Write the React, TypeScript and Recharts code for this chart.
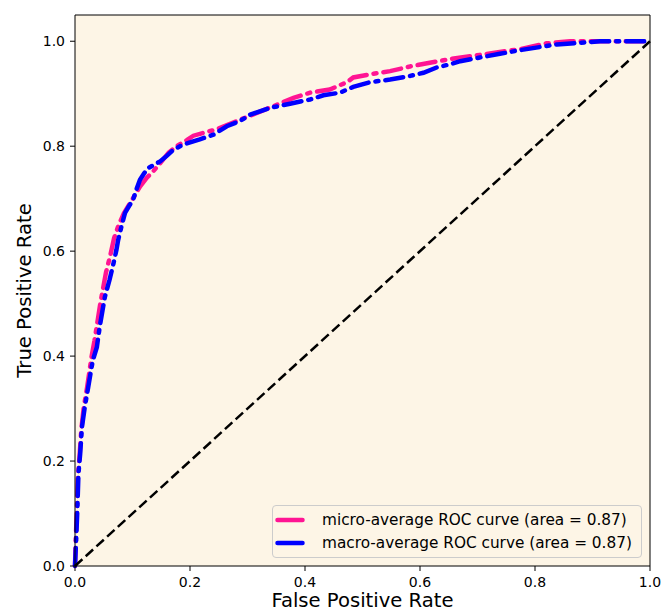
import { LineChart, Line, XAxis, YAxis, CartesianGrid, Label } from 'recharts'

// ROC points, [false positive rate, true positive rate]
const microAverage: [number, number][] = [
  [0, 0], [0.001, 0.04], [0.003, 0.1], [0.005, 0.17], [0.008, 0.21], [0.011, 0.26],
  [0.015, 0.3], [0.021, 0.34], [0.025, 0.37], [0.029, 0.4], [0.034, 0.43], [0.039, 0.465],
  [0.044, 0.5], [0.049, 0.53], [0.054, 0.56], [0.061, 0.59], [0.068, 0.625], [0.076, 0.65],
  [0.085, 0.672], [0.095, 0.69], [0.105, 0.708], [0.113, 0.723], [0.125, 0.74], [0.136, 0.752],
  [0.15, 0.77], [0.163, 0.788], [0.177, 0.8], [0.195, 0.812], [0.206, 0.82], [0.225, 0.826],
  [0.246, 0.832], [0.275, 0.845], [0.304, 0.858], [0.34, 0.874], [0.38, 0.892], [0.409, 0.902],
  [0.443, 0.908], [0.473, 0.922], [0.484, 0.931], [0.513, 0.937], [0.548, 0.943], [0.583, 0.952],
  [0.617, 0.959], [0.652, 0.966], [0.704, 0.974], [0.774, 0.985], [0.82, 0.996], [0.861, 1.0],
  [1.0, 1.0],
]

const macroAverage: [number, number][] = [
  [0, 0], [0.002, 0.05], [0.004, 0.105], [0.006, 0.176], [0.009, 0.214], [0.012, 0.264],
  [0.017, 0.303], [0.023, 0.341], [0.027, 0.367], [0.031, 0.392], [0.038, 0.417], [0.043, 0.456],
  [0.048, 0.488], [0.052, 0.513], [0.06, 0.545], [0.067, 0.577], [0.072, 0.602], [0.075, 0.621],
  [0.081, 0.648], [0.087, 0.673], [0.094, 0.686], [0.101, 0.698], [0.107, 0.718], [0.113, 0.736],
  [0.12, 0.748], [0.127, 0.758], [0.148, 0.771], [0.16, 0.782], [0.171, 0.793], [0.188, 0.803],
  [0.217, 0.813], [0.241, 0.822], [0.264, 0.838], [0.287, 0.848], [0.304, 0.86], [0.339, 0.873],
  [0.374, 0.881], [0.409, 0.889], [0.432, 0.897], [0.461, 0.902], [0.484, 0.913], [0.513, 0.922],
  [0.548, 0.927], [0.583, 0.934], [0.606, 0.94], [0.629, 0.95], [0.652, 0.956], [0.67, 0.962],
  [0.704, 0.969], [0.739, 0.976], [0.774, 0.983], [0.809, 0.989], [0.838, 0.994], [0.878, 0.997],
  [0.913, 1.0], [1.0, 1.0],
]

const chanceLine: [number, number][] = [[0, 0], [1, 1]]

const xTicks = [0, 0.2, 0.4, 0.6, 0.8, 1.0]
const yTicks = [0, 0.2, 0.4, 0.6, 0.8, 1.0]
const xDomain = [0, 1]
const yDomain = [0, 1.05]

const FONT = '"DejaVu Sans", sans-serif'
const BG = '#fdf5e6'

const toPoints = (pairs: [number, number][]) => pairs.map(([fpr, tpr]) => ({ fpr, tpr }))

const series = [
  { name: 'micro-average ROC curve (area = 0.87)', color: '#ff1493', data: toPoints(microAverage) },
  { name: 'macro-average ROC curve (area = 0.87)', color: '#0000ff', data: toPoints(macroAverage) },
]

const tickStyle = { fontSize: 14, fontFamily: FONT, fill: '#000' }

// legend box sits in the lower right corner of the plot, like matplotlib's loc="lower right"
function LegendBox() {
  return (
    <div
      style={{
        position: 'absolute',
        left: 272,
        top: 505,
        boxSizing: 'border-box',
        width: 370,
        height: 53,
        border: '1px solid #cccccc',
        borderRadius: 4,
        background: BG,
        paddingTop: 2.5,
        fontFamily: FONT,
        fontSize: 15.3,
        color: '#000',
      }}
    >
      {series.map(s => (
        <div key={s.name} style={{ display: 'flex', alignItems: 'center', height: 23, lineHeight: '23px' }}>
          <svg width={34} height={10} style={{ flexShrink: 0 }}>
            <line x1={4.5} x2={29.5} y1={5} y2={5} stroke={s.color} strokeWidth={4.5} strokeLinecap="round" />
          </svg>
          <span style={{ marginLeft: 15, whiteSpace: 'nowrap' }}>{s.name}</span>
        </div>
      ))}
    </div>
  )
}

const renderYLabel = (props: any) => {
  const vb = props.viewBox || { y: 15, height: 551 }
  const cy = vb.y + vb.height / 2
  return (
    <text
      x={31}
      y={cy}
      transform={`rotate(-90, 31, ${cy})`}
      textAnchor="middle"
      fontSize={19.6}
      fontFamily={FONT}
      fill="#000"
    >
      True Positive Rate
    </text>
  )
}

export default function App() {
  return (
    <div style={{ position: 'absolute', left: 0, top: 0, width: 672, height: 612, background: '#fff' }}>
      <LineChart width={672} height={612} margin={{ top: 15, right: 22, bottom: 0, left: 0 }}>
        {/* plot background */}
        <CartesianGrid horizontal={false} vertical={false} fill={BG} />
        {/* top and right spines */}
        <CartesianGrid
          horizontalValues={[yDomain[1]]}
          verticalValues={[xDomain[1]]}
          stroke="#000"
          strokeWidth={1}
        />
        <XAxis
          dataKey="fpr"
          type="number"
          domain={xDomain}
          ticks={xTicks}
          tickFormatter={(v: number) => v.toFixed(1)}
          height={46}
          tickSize={5}
          tickMargin={6}
          tick={tickStyle}
          stroke="#000"
          allowDuplicatedCategory={false}
        >
          <Label value="False Positive Rate" position="insideBottom" offset={5} style={{ fontSize: 19.6, fontFamily: FONT, fill: '#000' }} />
        </XAxis>
        <YAxis
          dataKey="tpr"
          type="number"
          domain={yDomain}
          ticks={yTicks}
          tickFormatter={(v: number) => v.toFixed(1)}
          width={75}
          tickSize={5}
          tickMargin={5}
          tick={tickStyle}
          stroke="#000"
        >
          <Label content={renderYLabel} />
        </YAxis>
        {series.map(s => (
          <Line
            key={s.name}
            data={s.data}
            dataKey="tpr"
            name={s.name}
            type="linear"
            stroke={s.color}
            strokeWidth={4.5}
            strokeDasharray="18 7 3 7"
            strokeLinecap="round"
            dot={false}
            activeDot={false}
            isAnimationActive={false}
          />
        ))}
        <Line
          data={toPoints(chanceLine)}
          dataKey="tpr"
          type="linear"
          stroke="#000"
          strokeWidth={2.5}
          strokeDasharray="10 4.5"
          dot={false}
          activeDot={false}
          legendType="none"
          isAnimationActive={false}
        />
      </LineChart>
      <LegendBox />
    </div>
  )
}
